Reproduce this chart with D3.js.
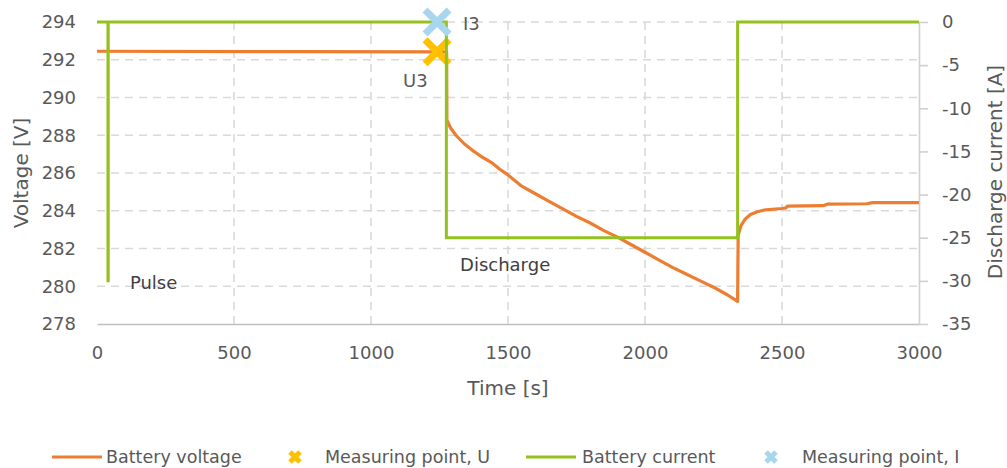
<!DOCTYPE html>
<html><head><meta charset="utf-8">
<script src="https://cdn.jsdelivr.net/npm/d3@7"></script>
<style>body{margin:0;background:#fff;} svg{display:block;font-family:"DejaVu Sans",sans-serif;}</style>
</head><body>
<svg id="c" width="1007" height="468"></svg>
<script>
// ---- data ----
const timeTicks = [0, 500, 1000, 1500, 2000, 2500, 3000];
const voltTicks = [278, 280, 282, 284, 286, 288, 290, 292, 294];
const currTicks = [-35, -30, -25, -20, -15, -10, -5, 0];

const voltTime  = [0, 700, 1276, 1277, 1290, 1310, 1340, 1370, 1400, 1440, 1470, 1500, 1550, 1600, 1650, 1700, 1750, 1800, 1850, 1900, 1950, 2000, 2050, 2100, 2150, 2200, 2250, 2300, 2338, 2340, 2350, 2365, 2385, 2410, 2440, 2500, 2515, 2520, 2650, 2665, 2810, 2830, 3000];
const voltValue = [292.45, 292.43, 292.42, 288.8, 288.4, 288.0, 287.55, 287.2, 286.9, 286.55, 286.2, 285.9, 285.3, 284.9, 284.5, 284.1, 283.7, 283.35, 282.95, 282.6, 282.2, 281.8, 281.4, 281.0, 280.65, 280.3, 279.95, 279.55, 279.2, 282.7, 283.2, 283.55, 283.8, 283.95, 284.05, 284.12, 284.15, 284.25, 284.27, 284.35, 284.37, 284.43, 284.43];

const currTime  = [0, 40, 40, 41, 41, 1275, 1275, 2338, 2338, 3000];
const currValue = [0, 0, -30, -30, 0, 0, -25, -25, 0, 0];

const measUTime = [1241], measUValue = [292.42], measULabel = ["U3"];
const measITime = [1241], measIValue = [0], measILabel = ["I3"];

const noteText  = ["Pulse", "Discharge"];
const noteTime  = [120, 1325];
const noteVolt  = [280.2, 281.2];

const legendNames = ["Battery voltage", "Measuring point, U", "Battery current", "Measuring point, I"];

// ---- styles ----
const cOrange = "#ED7D31", cGreen = "#95C11F", cYellow = "#FFC000", cBlue = "#A8D6EE";
const gridCol = "#D9D9D9", txtCol = "#595959";

const svg = d3.select("#c");
const x  = d3.scaleLinear().domain([0, 3000]).range([97, 919]);
const yV = d3.scaleLinear().domain([278, 294]).range([324, 22]);
const yI = d3.scaleLinear().domain([-35, 0]).range([324, 22]);

// grid
svg.append("g").selectAll("line").data(voltTicks.filter(v => v > 278)).join("line")
  .attr("x1", x(0)).attr("x2", x(3000)).attr("y1", d => yV(d)).attr("y2", d => yV(d))
  .attr("stroke", gridCol).attr("stroke-width", 1.6).attr("stroke-dasharray", "8,6");
svg.append("g").selectAll("line").data(timeTicks.filter(t => t > 0 && t < 3000)).join("line")
  .attr("x1", d => x(d)).attr("x2", d => x(d)).attr("y1", yV(294)).attr("y2", yV(278))
  .attr("stroke", gridCol).attr("stroke-width", 1.6).attr("stroke-dasharray", "8,6");

// bottom axis
const gx = svg.append("g").attr("transform", `translate(0,${yV(278)})`)
  .call(d3.axisBottom(x).tickValues(timeTicks).tickSize(0).tickPadding(22).tickFormat(d3.format("d")));
gx.select(".domain").attr("stroke", "#BFBFBF").attr("stroke-width", 1.6);
gx.selectAll("text").attr("fill", txtCol).attr("font-size", 18).attr("font-family", "DejaVu Sans");

// left axis
const gl = svg.append("g").attr("transform", `translate(${x(0)},0)`)
  .call(d3.axisLeft(yV).tickValues(voltTicks).tickSize(0).tickPadding(21).tickFormat(d3.format("d")));
gl.select(".domain").remove();
gl.selectAll("text").attr("fill", txtCol).attr("font-size", 18).attr("font-family", "DejaVu Sans");

// right axis
const gr = svg.append("g").attr("transform", `translate(${x(3000)},0)`)
  .call(d3.axisRight(yI).tickValues(currTicks).tickSize(9).tickPadding(14).tickSizeOuter(0).tickFormat(d => d3.format("d")(d).replace("\u2212", "-")));
gr.select(".domain").attr("stroke", "#D0D0D0").attr("stroke-width", 1.6);
gr.selectAll(".tick line").attr("stroke", "#D0D0D0").attr("stroke-width", 1.6);
gr.selectAll("text").attr("fill", txtCol).attr("font-size", 18).attr("font-family", "DejaVu Sans");

// axis titles
svg.append("text").attr("x", 508).attr("y", 395).attr("text-anchor", "middle")
  .attr("font-size", 20).attr("fill", txtCol).text("Time [s]");
svg.append("text").attr("transform", "translate(28,173) rotate(-90)").attr("text-anchor", "middle")
  .attr("font-size", 20).attr("fill", txtCol).text("Voltage [V]");
svg.append("text").attr("transform", "translate(1002,172) rotate(-90)").attr("text-anchor", "middle")
  .attr("font-size", 20).attr("fill", txtCol).text("Discharge current [A]");

// series
const xMark = (s) => `M${-s},${-s}L${s},${s}M${-s},${s}L${s},${-s}`;
const vLine = d3.line().x(i => x(voltTime[i])).y(i => yV(voltValue[i]));
svg.append("path").attr("d", vLine(d3.range(voltTime.length))).attr("fill", "none")
  .attr("stroke", cOrange).attr("stroke-width", 3.2).attr("stroke-linejoin", "round");

svg.append("g").selectAll("path").data(measUTime).join("path")
  .attr("transform", (d, i) => `translate(${x(d)},${yV(measUValue[i])})`)
  .attr("d", xMark(12)).attr("stroke", cYellow).attr("stroke-width", 7);

const iLine = d3.line().x(i => x(currTime[i])).y(i => yI(currValue[i]));
svg.append("path").attr("d", iLine(d3.range(currTime.length))).attr("fill", "none")
  .attr("stroke", cGreen).attr("stroke-width", 3);

svg.append("g").selectAll("path").data(measITime).join("path")
  .attr("transform", (d, i) => `translate(${x(d)},${yI(measIValue[i])})`)
  .attr("d", xMark(12)).attr("stroke", cBlue).attr("stroke-width", 7);

// point labels
svg.append("g").selectAll("text").data(measULabel).join("text")
  .attr("x", (d, i) => x(measUTime[i]) - 34).attr("y", (d, i) => yV(measUValue[i]) + 35)
  .attr("font-size", 18).attr("fill", txtCol).text(d => d);
svg.append("g").selectAll("text").data(measILabel).join("text")
  .attr("x", (d, i) => x(measITime[i]) + 26).attr("y", (d, i) => yI(measIValue[i]) + 8)
  .attr("font-size", 18).attr("fill", txtCol).text(d => d);

svg.append("g").selectAll("text").data(noteText).join("text")
  .attr("x", (d, i) => x(noteTime[i])).attr("y", (d, i) => yV(noteVolt[i]) + 7)
  .attr("font-size", 18).attr("fill", "#404040").text(d => d);

// legend
const lg = svg.append("g");
const lgY = 457;
const lgItems = [
  {x: 52, kind: "line", col: cOrange, tx: 106},
  {x: 295, kind: "mark", col: cYellow, tx: 325},
  {x: 526, kind: "line", col: cGreen, tx: 582},
  {x: 771, kind: "mark", col: cBlue, tx: 802}
];
lgItems.forEach((it, i) => {
  if (it.kind === "line") {
    lg.append("line").attr("x1", it.x).attr("x2", it.x + 50).attr("y1", lgY).attr("y2", lgY)
      .attr("stroke", it.col).attr("stroke-width", 3);
  } else {
    lg.append("path").attr("transform", `translate(${it.x},${lgY})`).attr("d", xMark(5))
      .attr("stroke", it.col).attr("stroke-width", 5);
  }
  lg.append("text").attr("x", it.tx).attr("y", lgY + 6).attr("font-size", 17.5)
    .attr("fill", txtCol).text(legendNames[i]);
});
</script>
</body></html>
